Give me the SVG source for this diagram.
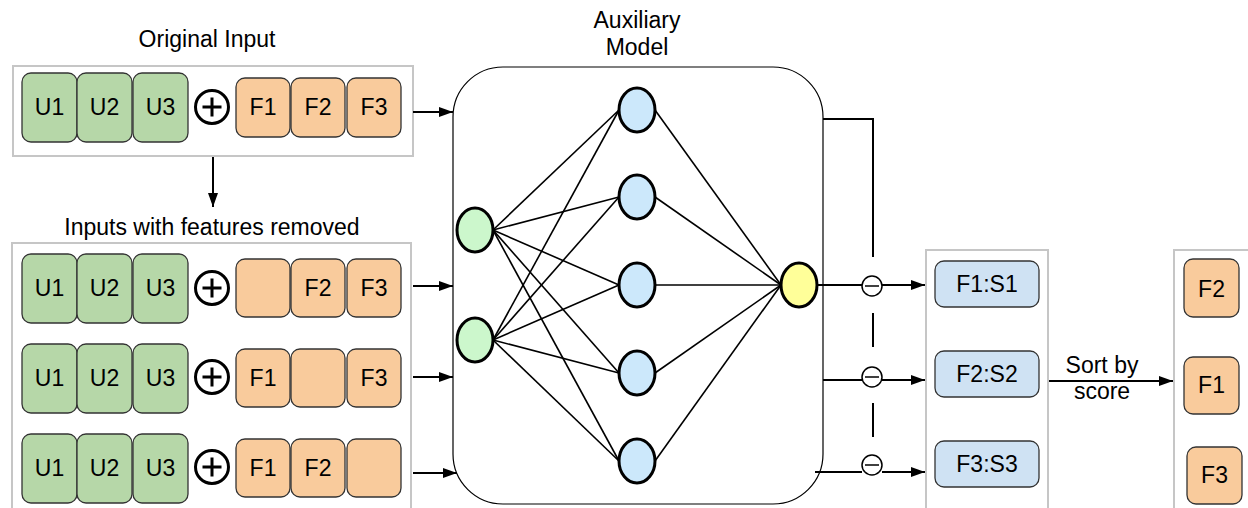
<svg xmlns="http://www.w3.org/2000/svg" width="1248" height="508" viewBox="0 0 1248 508">
  <defs>
    <style>
      text { font-family: "Liberation Sans", Arial, sans-serif; font-size: 23px; fill: #000; }
      .mid { text-anchor: middle; }
      .panel { fill: #fff; stroke: #c6c6c6; stroke-width: 2; }
      .u { fill: #b6d7a8; stroke: #333; stroke-width: 1.3; }
      .f { fill: #f9cb9c; stroke: #333; stroke-width: 1.3; }
      .s { fill: #cfe2f3; stroke: #333; stroke-width: 1.3; }
      .plus { fill: none; stroke: #000; stroke-width: 3; }
      .minus { fill: #fff; stroke: #000; stroke-width: 1.5; }
      .wire { fill: none; stroke: #000; stroke-width: 2; }
      .edge { stroke: #000; stroke-width: 1.6; }
      .nin { fill: #ccf7cc; stroke: #000; stroke-width: 3; }
      .nhid { fill: #cce8fb; stroke: #000; stroke-width: 3; }
      .nout { fill: #ffff99; stroke: #000; stroke-width: 3; }
    </style>
    <marker id="arrow" markerUnits="userSpaceOnUse" markerWidth="14" markerHeight="10" refX="14" refY="5" orient="auto">
      <path d="M0,0 L14,5 L0,10 z" fill="#000"/>
    </marker>
    <!-- user block U1..U3 -->
    <g id="ublock">
      <rect class="u" x="22" y="0" width="55" height="69" rx="9"/>
      <rect class="u" x="77" y="0" width="55" height="69" rx="9"/>
      <rect class="u" x="133" y="0" width="55" height="69" rx="9"/>
      <text class="mid" x="49.5" y="42">U1</text>
      <text class="mid" x="104.5" y="42">U2</text>
      <text class="mid" x="160.5" y="42">U3</text>
    </g>
    <!-- concatenation symbol -->
    <g id="oplus">
      <circle class="plus" cx="0" cy="0" r="16.5"/>
      <path class="plus" d="M-9.5,0 H9.5 M0,-9.5 V9.5"/>
    </g>
    <!-- subtraction symbol -->
    <g id="ominus">
      <circle class="minus" cx="0" cy="0" r="10"/>
      <path d="M-7,0 H7" stroke="#000" stroke-width="1.5"/>
    </g>
  </defs>

  <rect width="1248" height="508" fill="#fff"/>

  <!-- headings -->
  <text class="mid" x="207" y="47">Original Input</text>
  <text class="mid" x="212" y="235">Inputs with features removed</text>
  <text class="mid" x="637" y="28">Auxiliary</text>
  <text class="mid" x="637" y="55">Model</text>

  <!-- original input -->
  <g id="original-input">
    <rect class="panel" x="13" y="66" width="400" height="90"/>
    <use href="#ublock" x="0" y="73"/>
    <use href="#oplus" x="212" y="107"/>
    <rect class="f" x="236" y="78" width="54" height="59" rx="9"/>
    <rect class="f" x="291" y="78" width="54" height="59" rx="9"/>
    <rect class="f" x="347" y="78" width="54" height="59" rx="9"/>
    <text class="mid" x="263" y="115">F1</text>
    <text class="mid" x="318" y="115">F2</text>
    <text class="mid" x="374" y="115">F3</text>
  </g>

  <!-- inputs with one feature removed -->
  <g id="masked-inputs">
    <rect class="panel" x="12" y="243" width="399" height="280"/>
  </g>
  <g id="masked-f1">
    <use href="#ublock" x="0" y="254"/>
    <use href="#oplus" x="212" y="288"/>
    <rect class="f" x="236" y="259" width="54" height="58" rx="9"/>
    <rect class="f" x="291" y="259" width="54" height="58" rx="9"/>
    <rect class="f" x="347" y="259" width="54" height="58" rx="9"/>
    <text class="mid" x="318" y="296">F2</text>
    <text class="mid" x="374" y="296">F3</text>
  </g>
  <g id="masked-f2">
    <use href="#ublock" x="0" y="344"/>
    <use href="#oplus" x="212" y="377"/>
    <rect class="f" x="236" y="349" width="54" height="58" rx="9"/>
    <rect class="f" x="291" y="349" width="54" height="58" rx="9"/>
    <rect class="f" x="347" y="349" width="54" height="58" rx="9"/>
    <text class="mid" x="263" y="386">F1</text>
    <text class="mid" x="374" y="386">F3</text>
  </g>
  <g id="masked-f3">
    <use href="#ublock" x="0" y="434"/>
    <use href="#oplus" x="212" y="467"/>
    <rect class="f" x="236" y="439" width="54" height="58" rx="9"/>
    <rect class="f" x="291" y="439" width="54" height="58" rx="9"/>
    <rect class="f" x="347" y="439" width="54" height="58" rx="9"/>
    <text class="mid" x="263" y="476">F1</text>
    <text class="mid" x="318" y="476">F2</text>
  </g>

  <!-- auxiliary model -->
  <g id="model">
    <rect x="453" y="67" width="370" height="437" rx="50" fill="#fff" stroke="#000" stroke-width="1.2"/>
    <g id="model-edges">
      <line class="edge" x1="493" y1="230" x2="619" y2="110"/>
      <line class="edge" x1="493" y1="230" x2="619" y2="197"/>
      <line class="edge" x1="493" y1="230" x2="619" y2="285"/>
      <line class="edge" x1="493" y1="230" x2="619" y2="373"/>
      <line class="edge" x1="493" y1="230" x2="619" y2="461"/>
      <line class="edge" x1="493" y1="340" x2="619" y2="110"/>
      <line class="edge" x1="493" y1="340" x2="619" y2="197"/>
      <line class="edge" x1="493" y1="340" x2="619" y2="285"/>
      <line class="edge" x1="493" y1="340" x2="619" y2="373"/>
      <line class="edge" x1="493" y1="340" x2="619" y2="461"/>
      <line class="edge" x1="655" y1="110" x2="781" y2="285"/>
      <line class="edge" x1="655" y1="197" x2="781" y2="285"/>
      <line class="edge" x1="655" y1="285" x2="781" y2="285"/>
      <line class="edge" x1="655" y1="373" x2="781" y2="285"/>
      <line class="edge" x1="655" y1="461" x2="781" y2="285"/>
    </g>
    <ellipse id="in-1" class="nin" cx="475" cy="230" rx="18" ry="22"/>
    <ellipse id="in-2" class="nin" cx="475" cy="340" rx="18" ry="22"/>
    <ellipse id="hid-1" class="nhid" cx="637" cy="110" rx="18" ry="22"/>
    <ellipse id="hid-2" class="nhid" cx="637" cy="197" rx="18" ry="22"/>
    <ellipse id="hid-3" class="nhid" cx="637" cy="285" rx="18" ry="22"/>
    <ellipse id="hid-4" class="nhid" cx="637" cy="373" rx="18" ry="22"/>
    <ellipse id="hid-5" class="nhid" cx="637" cy="461" rx="18" ry="22"/>
    <ellipse id="out" class="nout" cx="799" cy="285" rx="18" ry="22"/>
  </g>

  <!-- connectors -->
  <g id="connectors">
    <line class="wire" x1="213" y1="157" x2="213" y2="207" marker-end="url(#arrow)"/>
    <line class="wire" x1="413" y1="112" x2="453" y2="112" marker-end="url(#arrow)"/>
    <line class="wire" x1="413" y1="286" x2="453" y2="286" marker-end="url(#arrow)"/>
    <line class="wire" x1="413" y1="377" x2="453" y2="377" marker-end="url(#arrow)"/>
    <line class="wire" x1="413" y1="473" x2="457" y2="473" marker-end="url(#arrow)"/>

    <!-- baseline output routed down, dashed between the subtractions -->
    <path class="wire" d="M823,119 H873 V257"/>
    <line class="wire" x1="873" y1="313" x2="873" y2="347"/>
    <line class="wire" x1="873" y1="403" x2="873" y2="437"/>

    <line class="wire" x1="817" y1="285" x2="862" y2="285"/>
    <line class="wire" x1="882" y1="285" x2="925" y2="285" marker-end="url(#arrow)"/>
    <line class="wire" x1="823" y1="380" x2="862" y2="380"/>
    <line class="wire" x1="882" y1="380" x2="925" y2="380" marker-end="url(#arrow)"/>
    <line class="wire" x1="815" y1="472" x2="862" y2="472"/>
    <line class="wire" x1="882" y1="472" x2="925" y2="472" marker-end="url(#arrow)"/>

    <use href="#ominus" x="872" y="286"/>
    <use href="#ominus" x="872" y="377"/>
    <use href="#ominus" x="872" y="465"/>

    <line class="wire" x1="1048" y1="381" x2="1173" y2="381" marker-end="url(#arrow)"/>
  </g>
  <text class="mid" x="1102" y="373">Sort by</text>
  <text class="mid" x="1102" y="399">score</text>

  <!-- scores -->
  <g id="scores">
    <rect class="panel" x="926" y="250" width="122" height="280"/>
    <rect class="s" x="935" y="261" width="104" height="46" rx="9"/>
    <rect class="s" x="935" y="351" width="104" height="46" rx="9"/>
    <rect class="s" x="935" y="441" width="104" height="46" rx="9"/>
    <text class="mid" x="987" y="292">F1:S1</text>
    <text class="mid" x="987" y="382">F2:S2</text>
    <text class="mid" x="987" y="472">F3:S3</text>
  </g>

  <!-- ranked features -->
  <g id="ranking">
    <rect class="panel" x="1174" y="250" width="90" height="280"/>
    <rect class="f" x="1184" y="259" width="55" height="58" rx="9"/>
    <rect class="f" x="1184" y="357" width="55" height="57" rx="9"/>
    <rect class="f" x="1187" y="447" width="55" height="57" rx="9"/>
    <text class="mid" x="1211.5" y="297">F2</text>
    <text class="mid" x="1211.5" y="393">F1</text>
    <text class="mid" x="1214.5" y="483">F3</text>
  </g>
</svg>
